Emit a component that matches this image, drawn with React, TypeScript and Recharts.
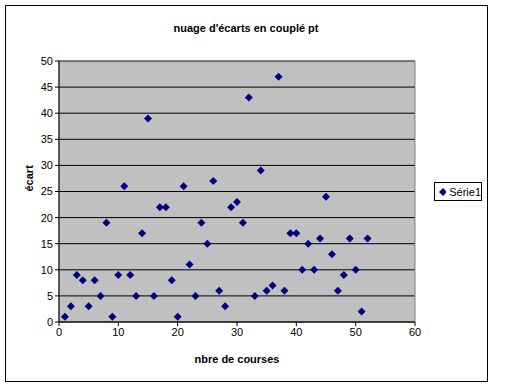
import { ScatterChart, Scatter, XAxis, YAxis, CartesianGrid, ReferenceArea } from 'recharts';

// nombre de courses (x) et écart (y)
const courses = [
  1, 2, 3, 4, 5, 6, 7, 8, 9, 10, 11, 12, 13, 14, 15, 16, 17, 18, 19, 20, 21, 22, 23, 24, 25, 26,
  27, 28, 29, 30, 31, 32, 33, 34, 35, 36, 37, 38, 39, 40, 41, 42, 43, 44, 45, 46, 47, 48, 49, 50, 51, 52,
];
const ecarts = [
  1, 3, 9, 8, 3, 8, 5, 19, 1, 9, 26, 9, 5, 17, 39, 5, 22, 22, 8, 1, 26, 11, 5, 19, 15, 27,
  6, 3, 22, 23, 19, 43, 5, 29, 6, 7, 47, 6, 17, 17, 10, 15, 10, 16, 24, 13, 6, 9, 16, 10, 2, 16,
];
const xTicks = [0, 10, 20, 30, 40, 50, 60];
const yTicks = [0, 5, 10, 15, 20, 25, 30, 35, 40, 45, 50];

const points = courses.map((x, i) => ({ x, y: ecarts[i] }));

const font = 'Arial, "Liberation Sans", sans-serif';

// petit losange façon Excel
const Diamond = (props: any) => {
  const { cx, cy } = props;
  if (cx == null || cy == null) return <g />;
  return (
    <polygon
      points={`${cx},${cy - 4} ${cx + 4},${cy} ${cx},${cy + 4} ${cx - 4},${cy}`}
      fill="#000080"
    />
  );
};

export default function App() {
  return (
    <div style={{ position: 'absolute', left: 0, top: 0, width: 512, height: 387, background: '#fff' }}>
      <div
        style={{
          position: 'absolute',
          left: 5,
          top: 5,
          width: 481,
          height: 375,
          border: '1px solid #000',
        }}
      />
      <div
        style={{
          position: 'absolute',
          left: 5,
          top: 22,
          width: 482,
          textAlign: 'center',
          fontFamily: font,
          fontWeight: 'bold',
          fontSize: 11,
          color: '#000',
        }}
      >
        nuage d'écarts en couplé pt
      </div>
      <div style={{ position: 'absolute', left: 0, top: 0 }}>
        <ScatterChart width={512} height={387} margin={{ top: 61, right: 97, bottom: 35, left: 25 }}>
          <CartesianGrid vertical={false} stroke="#000" strokeOpacity={1} fill="#C0C0C0" fillOpacity={1} />
          <ReferenceArea x1={0} x2={60} y1={0} y2={50} fill="none" stroke="#808080" strokeWidth={1} ifOverflow="visible" />
          <XAxis
            type="number"
            dataKey="x"
            domain={[0, 60]}
            ticks={xTicks}
            interval={0}
            height={30}
            tickSize={4}
            axisLine={{ stroke: '#000' }}
            tickLine={{ stroke: '#000' }}
            tick={{ fill: '#000', fontSize: 11, fontFamily: font }}
            label={{
              value: 'nbre de courses',
              position: 'insideBottom',
              offset: -11,
              fill: '#000',
              fontSize: 11,
              fontWeight: 'bold',
              fontFamily: font,
            }}
          />
          <YAxis
            type="number"
            dataKey="y"
            domain={[0, 50]}
            ticks={yTicks}
            interval={0}
            width={34}
            tickSize={4}
            axisLine={{ stroke: '#000' }}
            tickLine={{ stroke: '#000' }}
            tick={{ fill: '#000', fontSize: 11, fontFamily: font }}
            label={{
              value: 'écart',
              angle: -90,
              position: 'insideLeft',
              offset: 4,
              fill: '#000',
              fontSize: 11,
              fontWeight: 'bold',
              fontFamily: font,
            }}
          />
          <Scatter
            name="Série1"
            data={points}
            fill="#000080"
            shape={Diamond}
            isAnimationActive={false}
          />
        </ScatterChart>
      </div>
      <div
        style={{
          position: 'absolute',
          left: 434,
          top: 182,
          width: 48,
          height: 19,
          border: '1px solid #000',
          background: '#fff',
          display: 'flex',
          alignItems: 'center',
          fontFamily: font,
          fontSize: 11,
          color: '#000',
          boxSizing: 'border-box',
          paddingLeft: 4,
        }}
      >
        <svg width={8} height={8} style={{ marginRight: 3 }}>
          <polygon points="4,0 8,4 4,8 0,4" fill="#000080" />
        </svg>
        Série1
      </div>
    </div>
  );
}
